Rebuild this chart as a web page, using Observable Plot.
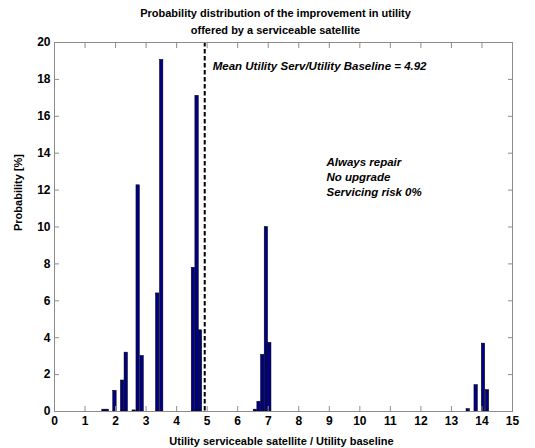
<!DOCTYPE html>
<html><head><meta charset="utf-8">
<script src="https://cdn.jsdelivr.net/npm/d3@7"></script>
<script src="https://cdn.jsdelivr.net/npm/@observablehq/plot@0.6"></script>
<style>body{margin:0;background:#fff}</style>
</head><body><div id="chart"></div>
<script>
const binCenters = [1.62, 1.73, 1.98, 2.23, 2.35, 2.61, 2.74, 2.87, 3.38, 3.51, 4.55, 4.67, 4.78, 6.58, 6.70, 6.82, 6.94, 7.05, 13.55, 13.81, 14.05, 14.18];
const probabilities = [0.1, 0.1, 1.12, 1.68, 3.19, 0.06, 12.26, 3.01, 6.40, 19.06, 7.79, 17.11, 4.40, 0.1, 0.53, 3.07, 10.0, 3.72, 0.13, 1.43, 3.68, 1.16];
const meanValue = 4.92;
const xTicks = [0,1,2,3,4,5,6,7,8,9,10,11,12,13,14,15];
const yTicks = [0,2,4,6,8,10,12,14,16,18,20];
const titleLines = ["Probability distribution of the improvement in utility", "offered by a serviceable satellite"];
const xLabel = "Utility serviceable satellite / Utility baseline";
const yLabel = "Probability [%]";
const meanLabel = "Mean Utility Serv/Utility Baseline = " + meanValue.toFixed(2);
const noteLines = ["Always repair", "No upgrade", "Servicing risk 0%"];

const bars = binCenters.map((x, i) => ({x, p: probabilities[i]}));
const hw = 0.056;
const font = "'Liberation Sans', Arial, sans-serif";
const gray = "#8c8c8c";

const chart = Plot.plot({
  width: 535, height: 448,
  marginLeft: 54, marginRight: 23, marginTop: 42, marginBottom: 37,
  style: {fontFamily: font, background: "#fff", color: "#000"},
  x: {domain: [0, 15]},
  y: {domain: [0, 20]},
  marks: [
    Plot.rectY(bars, {x1: d => d.x - hw, x2: d => d.x + hw, y: "p", fill: "#000080", stroke: "#000", strokeWidth: 0.5}),
    Plot.ruleX([meanValue], {stroke: "#000", strokeWidth: 2, strokeDasharray: "4.5,2.5"}),
    Plot.frame({stroke: gray}),
    Plot.axisX(xTicks, {anchor: "bottom", tickSize: -5, text: null, stroke: gray, label: null}),
    Plot.axisX(xTicks, {anchor: "top", tickSize: -5, text: null, stroke: gray, label: null}),
    Plot.axisY(yTicks, {anchor: "left", tickSize: -5, text: null, stroke: gray, label: null}),
    Plot.axisY(yTicks, {anchor: "right", tickSize: -5, text: null, stroke: gray, label: null}),
    Plot.axisX(xTicks, {anchor: "bottom", tickSize: 0, tickPadding: 5, fontSize: 12, fontWeight: "bold", fill: "#000", label: null}),
    Plot.axisY(yTicks, {anchor: "left", tickSize: 0, tickPadding: 4, fontSize: 12, fontWeight: "bold", fill: "#000", label: null}),
    Plot.text([titleLines.join("\n")], {frameAnchor: "top", dx: -8, dy: -37, lineAnchor: "top", lineHeight: 1.5, fontSize: 11, fontWeight: "bold", fill: "#000"}),
    Plot.text([xLabel], {frameAnchor: "bottom", dx: -2, dy: 30, lineAnchor: "middle", fontSize: 11, fontWeight: "bold", fill: "#000"}),
    Plot.text([yLabel], {frameAnchor: "left", dx: -36, dy: 4, rotate: -90, lineAnchor: "middle", fontSize: 11, fontWeight: "bold", fill: "#000"}),
    Plot.text([meanLabel], {x: () => meanValue, frameAnchor: "top", textAnchor: "start", dx: 8, dy: 24, lineAnchor: "middle", fontSize: 11.5, fontWeight: "bold", fontStyle: "italic", fill: "#000"}),
    Plot.text([noteLines.join("\n")], {frameAnchor: "top-left", textAnchor: "start", dx: 272, dy: 113, lineAnchor: "top", lineHeight: 1.3, fontSize: 11.5, fontWeight: "bold", fontStyle: "italic", fill: "#000"})
  ]
});
document.getElementById("chart").appendChild(chart);
</script>
</body></html>
